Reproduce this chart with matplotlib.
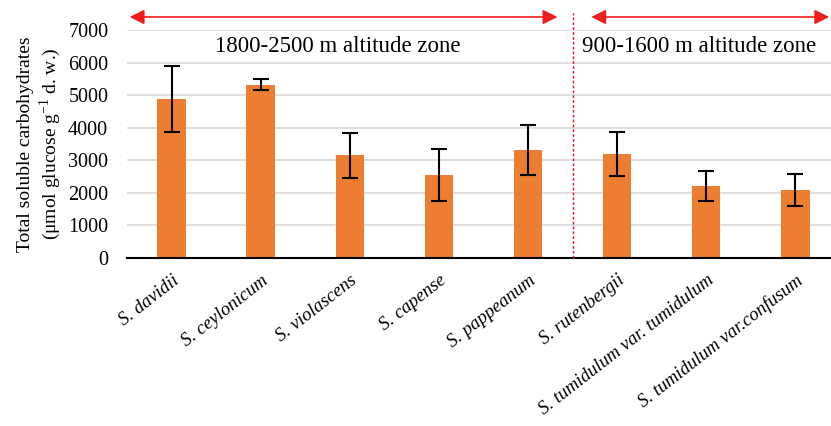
import matplotlib
matplotlib.use("Agg")
import matplotlib.pyplot as plt
import numpy as np

species = ["S. davidii", "S. ceylonicum", "S. violascens", "S. capense", "S. pappeanum",
           "S. rutenbergii", "S. tumidulum var. tumidulum", "S. tumidulum var.confusum"]
means = [4880, 5320, 3160, 2550, 3320, 3190, 2210, 2080]
errors = [1010, 170, 690, 790, 760, 680, 475, 485]
yticks = [0, 1000, 2000, 3000, 4000, 5000, 6000, 7000]
zone_labels = ["1800-2500 m altitude zone", "900-1600 m altitude zone"]

plt.rcParams['font.family'] = ['Liberation Serif', 'DejaVu Serif']
plt.rcParams['mathtext.fontset'] = 'custom'
plt.rcParams['mathtext.rm'] = 'Liberation Serif'

fig = plt.figure(figsize=(8.31, 4.26), dpi=100)
ax = fig.add_axes([127/831, (426-258)/426, (831-127)/831, (258-30)/426])

x = np.arange(len(species))
ax.bar(x, means, width=0.32, color='#ED7D31', zorder=2)
ax.errorbar(x, means, yerr=errors, fmt='none', ecolor='black', elinewidth=1.5,
            capsize=6, capthick=1.5, zorder=3)

ax.set_xlim(-0.5, 7.4)
ax.set_ylim(0, 7000)
ax.set_yticks(yticks)
ax.set_yticklabels([str(v) for v in yticks], fontsize=14.5)
ax.yaxis.grid(True, color='#d9d9d9', linewidth=1.2, zorder=0)
ax.set_axisbelow(True)
ax.tick_params(axis='y', length=0, pad=13.5)
for s in ['top', 'right', 'left']:
    ax.spines[s].set_visible(False)
ax.spines['bottom'].set_linewidth(1.5)
ax.spines['bottom'].set_zorder(4)

ax.set_xticks(x)
ax.set_xticklabels(species, rotation=38, ha='right', rotation_mode='anchor',
                   fontsize=13.5, style='italic')
ax.tick_params(axis='x', length=0, pad=10)

ax.set_ylabel("Total soluble carbohydrates\n(\u03bcmol glucose g$^{-1}$ d. w.)", fontsize=14,
              labelpad=4, linespacing=1.15)

# separator line
ax.plot([4.5, 4.5], [0, 1.075], transform=ax.get_xaxis_transform(), color='#e8102e',
        linestyle=(0, (2, 1.5)), linewidth=1, clip_on=False, zorder=5)

# arrows
arrow_y = 1.057
for x0, x1 in [(-0.47, 4.33), (4.71, 7.38)]:
    ax.annotate('', xy=(x0, arrow_y), xytext=(x1, arrow_y),
                xycoords=ax.get_xaxis_transform(), textcoords=ax.get_xaxis_transform(),
                arrowprops=dict(arrowstyle='<|-|>', color='#ee1c1c', lw=1.2,
                                mutation_scale=22, shrinkA=0, shrinkB=0),
                annotation_clip=False)

ax.text(1.86, 6480, zone_labels[0], ha='center', va='center', fontsize=16.5)
ax.text(5.92, 6480, zone_labels[1], ha='center', va='center', fontsize=16.5)

fig.savefig("out.png", dpi=100)
